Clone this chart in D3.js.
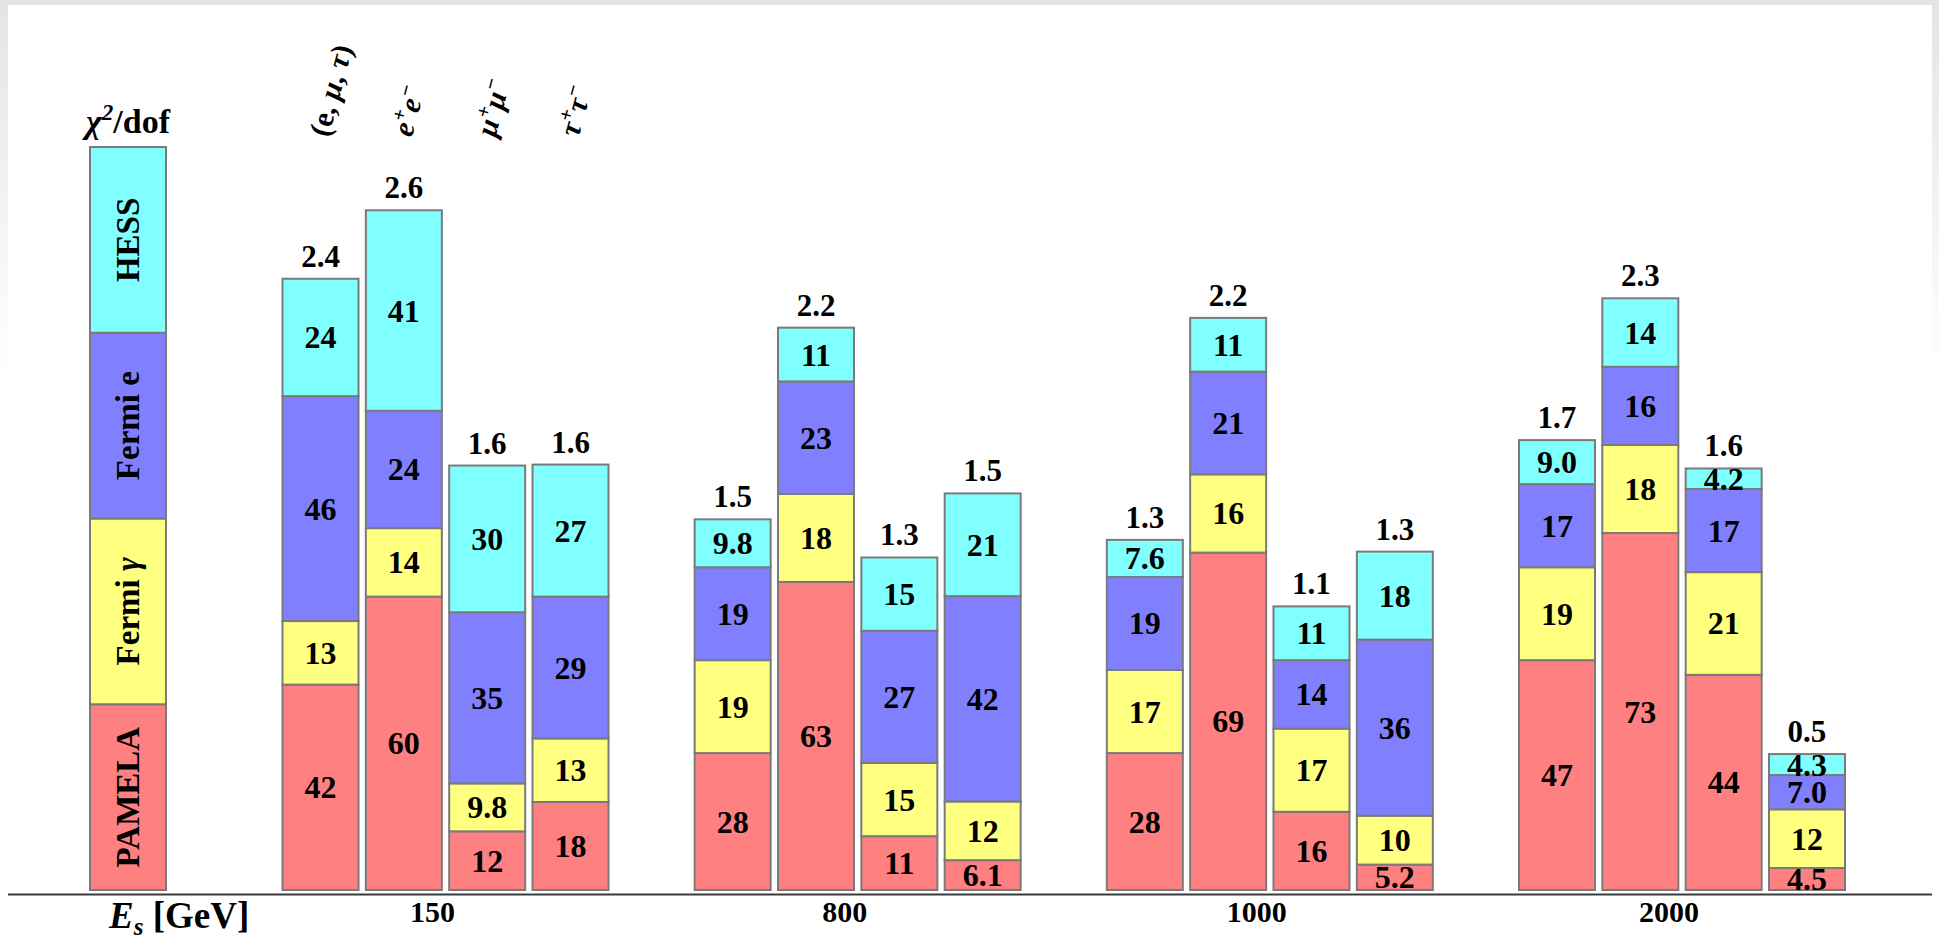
<!DOCTYPE html>
<html>
<head>
<meta charset="utf-8">
<script src="https://cdn.jsdelivr.net/npm/d3@7/dist/d3.min.js"></script>
<style>
  html, body { margin: 0; padding: 0; background: #ffffff; }
  svg { display: block; }
  text { font-family: "Liberation Serif", "Times New Roman", serif; font-weight: bold; fill: #000; }
</style>
</head>
<body>
<svg id="chart" width="1939" height="938"></svg>
<script>
// Dark-matter annihilation channels at four masses; each stacked bar is the
// chi^2 contribution of every data set, total chi^2/dof printed on top.
const energies = ["150", "800", "1000", "2000"];
const channels = ["emt", "ee", "mm", "tt"];
const seriesKeys = ["pamela", "fermiGamma", "fermiE", "hess"];
const seriesColors = ["#ff8080", "#ffff80", "#8080ff", "#80ffff"];

// values ordered energy by energy, channel by channel
const pamela     = [42, 60, 12, 18,   28, 63, 11, 6.1,  28, 69, 16, 5.2,  47, 73, 44, 4.5];
const fermiGamma = [13, 14, 9.8, 13,  19, 18, 15, 12,   17, 16, 17, 10,   19, 18, 21, 12];
const fermiE     = [46, 24, 35, 29,   19, 23, 27, 42,   19, 21, 14, 36,   17, 16, 17, 7.0];
const hess       = [24, 41, 30, 27,   9.8, 11, 15, 21,  7.6, 11, 11, 18,  9.0, 14, 4.2, 4.3];
const chi2dof    = [2.4, 2.6, 1.6, 1.6, 1.5, 2.2, 1.3, 1.5, 1.3, 2.2, 1.1, 1.3, 1.7, 2.3, 1.6, 0.5];

const rows = [];
energies.forEach((e, i) => channels.forEach((c, j) => {
  const k = i * channels.length + j;
  rows.push({ energy: e, channel: c, pamela: pamela[k], fermiGamma: fermiGamma[k],
              fermiE: fermiE[k], hess: hess[k], chi: chi2dof[k] });
}));

const svg = d3.select("#chart");
const W = 1939, H = 938;

// slide frame: thin grey top edge with side shades fading out downwards
const defs = svg.append("defs");
const fade = defs.append("linearGradient").attr("id", "sideFade")
  .attr("x1", 0).attr("y1", 0).attr("x2", 0).attr("y2", 1);
fade.append("stop").attr("offset", "0%").attr("stop-color", "#e4e4e4");
fade.append("stop").attr("offset", "100%").attr("stop-color", "#ffffff");
svg.append("rect").attr("x", 0).attr("y", 0).attr("width", W).attr("height", H).attr("fill", "#fff");
svg.append("rect").attr("x", 0).attr("y", 0).attr("width", 8).attr("height", 380).attr("fill", "url(#sideFade)");
svg.append("rect").attr("x", 1932).attr("y", 0).attr("width", 7).attr("height", 380).attr("fill", "url(#sideFade)");
svg.append("rect").attr("x", 0).attr("y", 0).attr("width", W).attr("height", 5).attr("fill", "#e4e4e4");

const baseY = 890;
const y = d3.scaleLinear().domain([0, 100]).range([baseY, baseY - 489]);

const x0 = d3.scaleBand().domain(energies).range([282.5, 1845]).paddingInner(0.209).paddingOuter(0);
const x1 = d3.scaleBand().domain(channels).range([0, x0.bandwidth()]).paddingInner(0.088).paddingOuter(0);
const color = d3.scaleOrdinal().domain(seriesKeys).range(seriesColors);

const stack = d3.stack().keys(seriesKeys);
const layers = stack(rows);

const fmt = v => v < 10 ? v.toFixed(1) : v.toFixed(0);

const bars = svg.append("g");
layers.forEach(layer => {
  const g = bars.append("g").attr("fill", color(layer.key));
  g.selectAll("rect").data(layer).join("rect")
    .attr("x", d => x0(d.data.energy) + x1(d.data.channel))
    .attr("y", d => y(d[1]))
    .attr("width", x1.bandwidth())
    .attr("height", d => y(d[0]) - y(d[1]))
    .attr("stroke", "#7a7a7a")
    .attr("stroke-width", 2);
});
layers.forEach(layer => {
  bars.append("g").selectAll("text").data(layer).join("text")
    .attr("x", d => x0(d.data.energy) + x1(d.data.channel) + x1.bandwidth() / 2)
    .attr("y", d => (y(d[0]) + y(d[1])) / 2 + 11)
    .attr("text-anchor", "middle")
    .attr("font-size", 32)
    .text(d => fmt(d[1] - d[0]));
});

// total chi^2/dof above each bar
const topLayer = layers[layers.length - 1];
svg.append("g").selectAll("text").data(topLayer).join("text")
  .attr("x", d => x0(d.data.energy) + x1(d.data.channel) + x1.bandwidth() / 2)
  .attr("y", d => y(d[1]) - 12)
  .attr("text-anchor", "middle")
  .attr("font-size", 31)
  .text(d => d.data.chi.toFixed(1));

// channel names, slanted, above the first group
const chanParts = {
  emt: [["(e, ", "normal"], ["μ", "italic"], [", ", "normal"], ["τ", "italic"], [")", "normal"]],
  ee:  [["e", "italic"], ["+", "sup"], ["e", "italic"], ["−", "sup"]],
  mm:  [["μ", "italic"], ["+", "sup"], ["μ", "italic"], ["−", "sup"]],
  tt:  [["τ", "italic"], ["+", "sup"], ["τ", "italic"], ["−", "sup"]]
};
function richText(sel, parts, size) {
  let raised = false;
  parts.forEach(([s, kind]) => {
    const t = sel.append("tspan").text(s);
    if (kind === "sup" || kind === "sub") {
      t.attr("font-size", size * 0.68).attr("font-style", "italic")
       .attr("dy", kind === "sup" ? -size * 0.38 : size * 0.2);
      raised = kind;
    } else {
      if (raised) t.attr("dy", raised === "sup" ? size * 0.38 : -size * 0.2);
      raised = false;
      t.attr("font-style", kind === "italic" ? "italic" : "normal");
    }
  });
}
channels.forEach(c => {
  const cx = x0(energies[0]) + x1(c) + x1.bandwidth() / 2;
  const t = svg.append("text")
    .attr("transform", `translate(${cx + 8},138) rotate(-75)`)
    .attr("font-size", 30);
  richText(t, chanParts[c], 30);
});

// key bar on the left
const legendNames = {
  pamela: [["PAMELA", "normal"]],
  fermiGamma: [["Fermi ", "normal"], ["γ", "italic"]],
  fermiE: [["Fermi e", "normal"]],
  hess: [["HESS", "normal"]]
};
// reversed range: the first key sits at the bottom, ly() gives each band's top edge
const ly = d3.scaleBand().domain(seriesKeys).range([baseY, 147]);
const lx = 90, lw = 76;
const leg = svg.append("g");
leg.selectAll("rect").data(seriesKeys).join("rect")
  .attr("x", lx).attr("y", d => ly(d))
  .attr("width", lw).attr("height", ly.bandwidth())
  .attr("fill", d => color(d)).attr("stroke", "#7a7a7a").attr("stroke-width", 2);
seriesKeys.forEach(k => {
  const cy = ly(k) + ly.bandwidth() / 2;
  const t = leg.append("text")
    .attr("transform", `translate(${lx + lw / 2 + 11},${cy}) rotate(-90)`)
    .attr("text-anchor", "middle")
    .attr("font-size", 33);
  richText(t, legendNames[k], 33);
});
const chiTitle = svg.append("text")
  .attr("x", lx + lw / 2).attr("y", 133)
  .attr("text-anchor", "middle").attr("font-size", 34);
richText(chiTitle, [["χ", "italic"], ["2", "sup"], ["/dof", "normal"]], 34);

// energy axis
svg.append("line").attr("x1", 8).attr("x2", 1932).attr("y1", 894.5).attr("y2", 894.5)
  .attr("stroke", "#3a3a3a").attr("stroke-width", 2);
svg.append("g").selectAll("text").data(energies).join("text")
  .attr("x", d => x0(d) + x0.bandwidth() / 2 - 13)
  .attr("y", 922)
  .attr("text-anchor", "middle")
  .attr("font-size", 30)
  .text(d => d);
const eLabel = svg.append("text").attr("x", 109).attr("y", 928).attr("font-size", 37);
richText(eLabel, [["E", "italic"], ["s", "sub"], [" [GeV]", "normal"]], 37);
</script>
</body>
</html>
